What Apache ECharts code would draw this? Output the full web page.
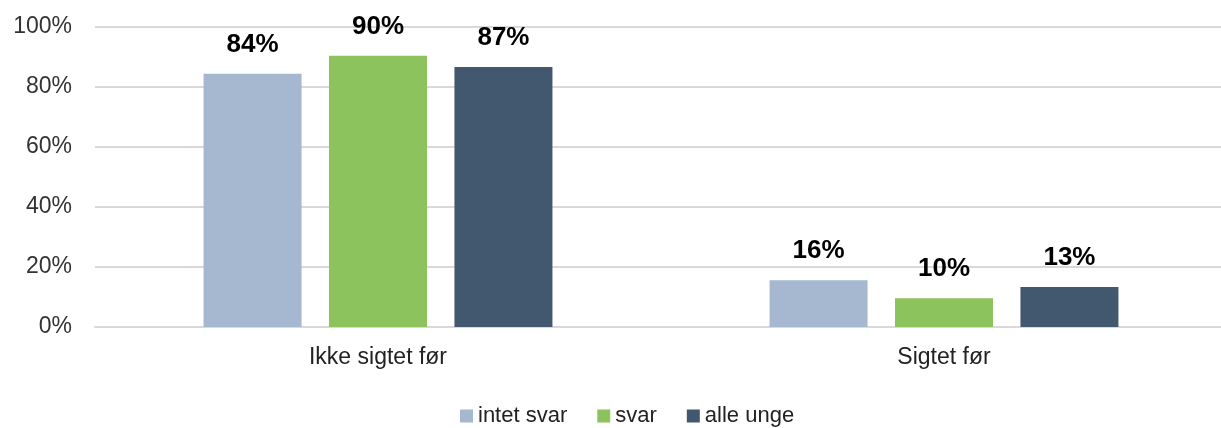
<!DOCTYPE html>
<html>
<head>
<meta charset="utf-8">
<script src="https://cdn.jsdelivr.net/npm/echarts@6/dist/echarts.min.js"></script>
<style>
html,body{margin:0;padding:0;background:#fff;overflow:hidden;}
#chart{width:1240px;height:428px;}
</style>
</head>
<body>
<div id="chart"></div>
<script>
const categories = ['Ikke sigtet før', 'Sigtet før'];
const seriesNames = ['intet svar', 'svar', 'alle unge'];
const intetSvar = [84.4, 15.6];
const svar = [90.4, 9.6];
const alleUnge = [86.7, 13.3];
const yTicks = [0, 20, 40, 60, 80, 100];
const colors = ['#A5B8CF', '#8CC35C', '#42586E'];

const font = 'Liberation Sans';
const chart = echarts.init(document.getElementById('chart'));
const values = [intetSvar, svar, alleUnge];
chart.setOption({
  animation: false,
  grid: {left: 95, top: 27, width: 1132, height: 300, containLabel: false},
  legend: {
    left: 455, top: 400,
    itemWidth: 13, itemHeight: 13, itemGap: 30,
    icon: 'rect',
    textStyle: {fontFamily: font, fontSize: 22, color: '#222', padding: [0,0,0,0]},
    data: seriesNames
  },
  xAxis: {
    type: 'category', data: categories,
    axisLine: {show: true, lineStyle: {color: '#d9d9d9', width: 2}},
    axisTick: {show: false},
    axisLabel: {fontFamily: font, fontSize: 23, color: '#222', margin: 19}
  },
  yAxis: {
    type: 'value', min: yTicks[0], max: yTicks[yTicks.length-1], interval: 20,
    axisLine: {show: false}, axisTick: {show: false},
    splitLine: {lineStyle: {color: '#d9d9d9', width: 2}},
    axisLabel: {fontFamily: font, fontSize: 23, color: '#333', margin: 23, formatter: v => v + '%'}
  },
  series: seriesNames.map((n, i) => ({
    name: n, type: 'bar', data: values[i],
    barWidth: 98, barGap: '28%',
    itemStyle: {color: colors[i]},
    label: {show: true, position: 'top', distance: 16,
      fontFamily: font, fontSize: 26, fontWeight: 'bold', color: '#000',
      formatter: p => Math.round(p.value) + '%'}
  }))
});
</script>
</body>
</html>
